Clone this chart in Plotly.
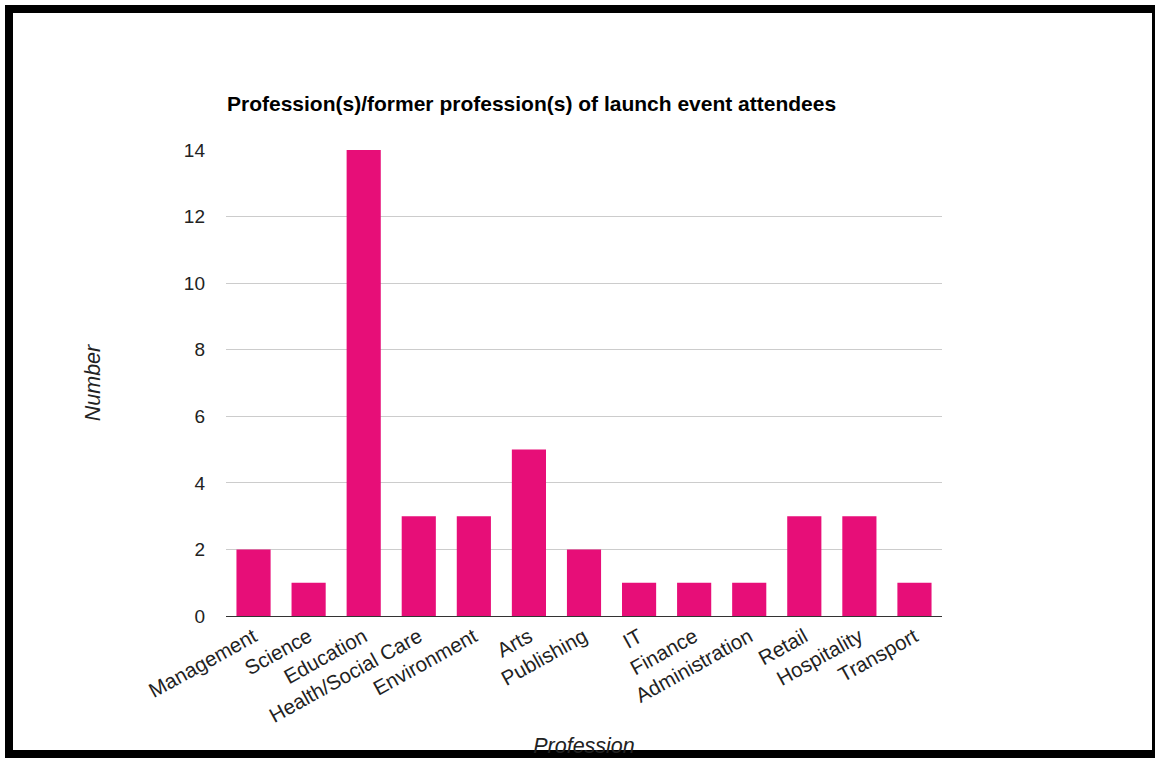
import plotly.graph_objects as go

categories = ["Management", "Science", "Education", "Health/Social Care", "Environment",
              "Arts", "Publishing", "IT", "Finance", "Administration", "Retail",
              "Hospitality", "Transport"]
counts = [2, 1, 14, 3, 3, 5, 2, 1, 1, 1, 3, 3, 1]
y_ticks = [0, 2, 4, 6, 8, 10, 12, 14]

W, H = 1155, 758
L, R, T, B = 226, 942, 150, 616
PW, PH = R - L, B - T

def px(x):
    return (x - L) / PW

def py(y):
    return (B - y) / PH

FONT = "Liberation Sans, Arial, sans-serif"
BAR = "#E70E78"

fig = go.Figure(go.Bar(x=categories, y=counts, marker=dict(color=BAR, line=dict(width=0)),
                       showlegend=False))

fig.update_layout(
    width=W, height=H,
    margin=dict(l=L, r=W - R, t=T, b=H - B, autoexpand=False),
    paper_bgcolor="white", plot_bgcolor="white",
    bargap=0.38,
    font=dict(family=FONT, size=19, color="#222222"),
    title=dict(text="<b>Profession(s)/former profession(s) of launch event attendees</b>",
               x=px(227), xref="paper", xanchor="left",
               y=1 - 104 / H, yref="container", yanchor="middle",
               font=dict(size=21, color="#000000")),
    xaxis=dict(tickangle=-29, showgrid=False, showline=True, linecolor="#333333", linewidth=1,
               ticks="", tickfont=dict(size=20.5, color="#222222"),
               title=dict(text="<i>Profession</i>", font=dict(size=21.5, color="#222222"), standoff=12)),
    yaxis=dict(range=[0, 14], tickvals=y_ticks, showgrid=True, gridcolor="#cccccc", gridwidth=1,
               zeroline=True, zerolinecolor="#333333", zerolinewidth=1,
               ticks="", ticklabelstandoff=20, tickfont=dict(size=19, color="#222222"),
               title=dict(text="<i>Number</i>", font=dict(size=21.5, color="#222222"), standoff=77)),
    shapes=[dict(type="rect", xref="paper", yref="paper",
                 x0=px(9), x1=px(1156), y0=py(754), y1=py(9),
                 line=dict(color="black", width=8), fillcolor="rgba(0,0,0,0)", layer="above")],
)

fig.write_html("out.html", config={"displayModeBar": False},
               post_script="document.body.style.margin='0';")
